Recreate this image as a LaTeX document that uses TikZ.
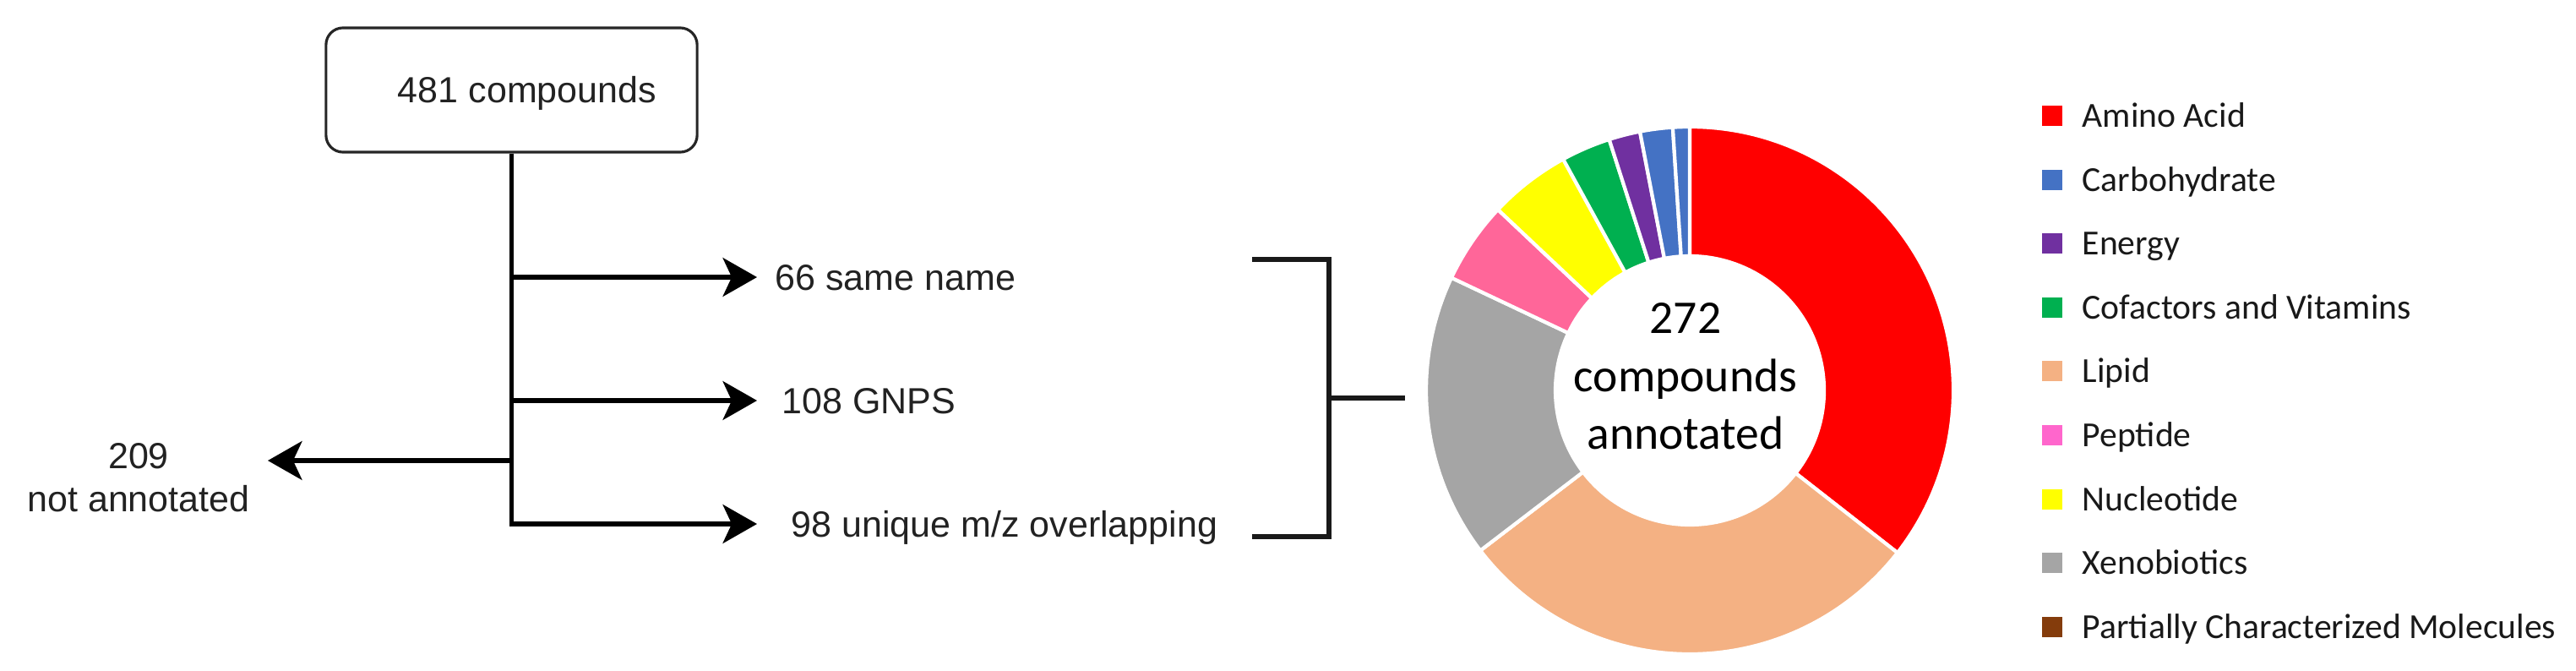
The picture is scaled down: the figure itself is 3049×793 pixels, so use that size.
\documentclass[tikz,border=0pt]{standalone}
\usepackage{fontspec}
\setmainfont{Liberation Sans}
\newfontfamily\calfont{Carlito}
\usetikzlibrary{arrows.meta}
\definecolor{ink}{HTML}{222222}
\definecolor{cAmino}{HTML}{FF0000}
\definecolor{cCarb}{HTML}{4472C4}
\definecolor{cEnergy}{HTML}{7030A0}
\definecolor{cCof}{HTML}{00B050}
\definecolor{cLipid}{HTML}{F4B183}
\definecolor{cPepS}{HTML}{FF6699}
\definecolor{cPepL}{HTML}{FF66CC}
\definecolor{cNuc}{HTML}{FFFF00}
\definecolor{cXeno}{HTML}{A5A5A5}
\definecolor{cPart}{HTML}{843C0C}
\begin{document}
\begin{tikzpicture}[x=0.01cm,y=0.01cm,
  flowtxt/.style={font=\fontsize{12.23}{14.2}\selectfont, text=ink, inner ysep=0pt, text height=0.31cm, text depth=0pt, anchor=west},
  arr/.style={line width=1.6pt, draw=black, -{Stealth[length=11.5pt,width=13pt,inset=3pt]}},
  brk/.style={line width=1.8pt, draw=black!90, line join=miter},
  boxst/.style={draw=black!85, line width=0.9pt, rounded corners=0.2cm, minimum width=4.39cm, minimum height=1.47cm, inner sep=0pt},
  legtxt/.style={font=\calfont\fontsize{11.84}{14}\selectfont, text=black!90, inner sep=0pt, anchor=base west},
  ctrtxt/.style={font=\calfont\fontsize{15.8}{19.5}\selectfont, text=black, inner sep=0pt, anchor=base},
  slice/.style={draw=white, line width=1.2pt}
]
\useasboundingbox (0,0) rectangle (3049,793);

% ---- flowchart ----
\node[boxst] (box) at (605.5,686.5) {};
\node[font=\fontsize{12.23}{14.2}\selectfont, text=ink, inner sep=0pt] (boxlabel) at (624,683) {481 compounds};

\node[flowtxt, inner xsep=0.21cm] (l66) at (896,465) {66 same name};
\node[flowtxt, inner xsep=0.29cm] (lgnps) at (896,319) {108 GNPS};
\node[flowtxt, inner xsep=0.40cm] (l98) at (896,173) {98 unique m/z overlapping};
\node[font=\fontsize{12.23}{14.4}\selectfont, text=ink, align=center, inner sep=0pt] (l209) at (164,228) {209\\not annotated};

\coordinate (j66) at (605.5,465);
\coordinate (jgnps) at (605.5,319);
\coordinate (j209) at (605.5,248);
\coordinate (t209) at (317,248);

\draw[arr, line join=miter] (box.south) |- (l98);
\draw[arr] (j66) -- (l66);
\draw[arr] (jgnps) -- (lgnps);
\draw[arr] (j209) -- (t209);

% ---- bracket ----
\coordinate (b1) at (1482,486);
\coordinate (b2) at (1573,486);
\coordinate (b3) at (1573,158);
\coordinate (b4) at (1482,158);
\coordinate (bm) at (1573,322);
\coordinate (be) at (1663,322);
\draw[brk] (b1) -- (b2) -- (b3) -- (b4);
\draw[brk] (bm) -- (be);

% ---- donut ----
\begin{scope}[shift={(2000,331)}]
\foreach \a/\b/\c in {90/-38/cAmino, -38/-142.6/cLipid, -142.6/-205.3/cXeno, -205.3/-223.3/cPepS, -223.3/-241.3/cNuc, -241.3/-252.2/cCof, -252.2/-259.1/cEnergy, -259.1/-266.3/cCarb, -266.3/-270/cCarb}
  \filldraw[slice, fill=\c] (\a:312) arc[start angle=\a, end angle=\b, radius=312] -- (\b:159) arc[start angle=\b, end angle=\a, radius=159] -- cycle;
\end{scope}
\node[ctrtxt] (c1) at (1995,399) {272};
\node[ctrtxt] (c2) at (1995,330) {compounds};
\node[ctrtxt] (c3) at (1995,262) {annotated};

% ---- legend ----
\foreach \i/\c/\t in {0/cAmino/Amino Acid, 1/cCarb/Carbohydrate, 2/cEnergy/Energy, 3/cCof/Cofactors and Vitamins, 4/cLipid/Lipid, 5/cPepL/Peptide, 6/cNuc/Nucleotide, 7/cXeno/Xenobiotics, 8/cPart/Partially Characterized Molecules}{
  \pgfmathsetmacro{\yy}{656-75.6*\i}
  \fill[\c] (2417,\yy-12) rectangle (2441,\yy+12);
  \node[legtxt] (leg\i) at (2464,\yy-13.4) {\t};
}
\end{tikzpicture}
\end{document}
